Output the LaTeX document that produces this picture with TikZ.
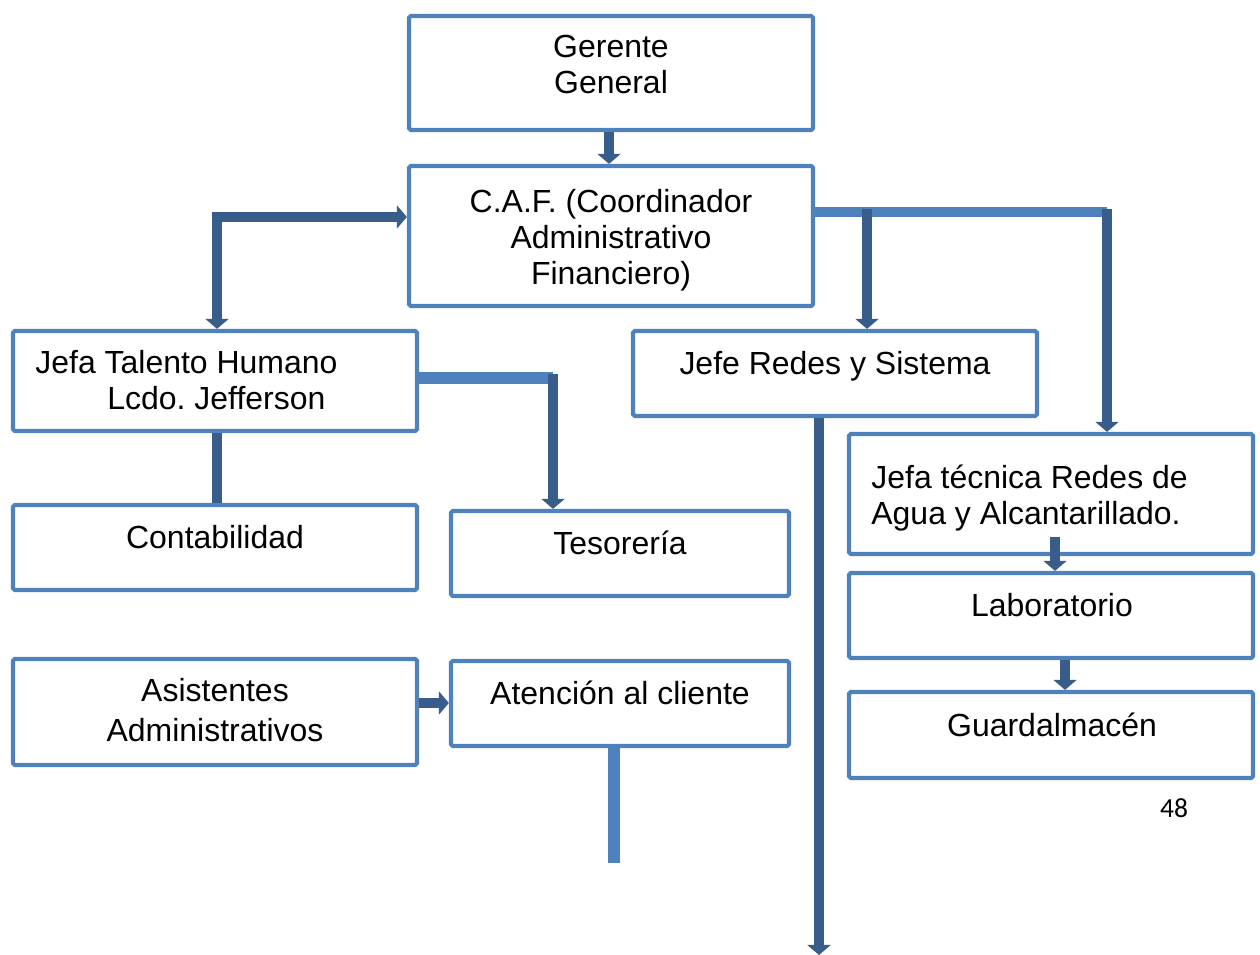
\documentclass[tikz,border=0pt]{standalone}
\usepackage{fontspec}
\setmainfont{Liberation Sans}
\newfontfamily\calib{Carlito}
\usetikzlibrary{arrows.meta,fit}
\definecolor{boxblue}{HTML}{4F81BD}
\definecolor{darkblue}{HTML}{385D8A}
\frenchspacing
\begin{document}
\begin{tikzpicture}[x=0.02cm,y=-0.02cm,
  box/.style={draw=boxblue,line width=2.4pt,rounded corners=1pt,inner sep=0pt},
  txt/.style={inner sep=0pt,align=center,font=\fontsize{18.2}{20.5}\selectfont},
  dark/.style={draw=darkblue,line width=5.7pt},
  darr/.style={dark,-{Triangle[length=5.7pt,width=13pt]}},
  light/.style={draw=boxblue,line width=6.3pt}
]
\useasboundingbox (0,0) rectangle (1260,955);

% boxes
\node[box,fit={(409,16) (813,130)}] (g) {};
\node[box,fit={(409,166) (813,306)}] (caf) {};
\node[box,fit={(13,331) (417,431)}] (tal) {};
\node[box,fit={(633,331) (1037,416)}] (red) {};
\node[box,fit={(849,434) (1253,554)}] (tec) {};
\node[box,fit={(13,505) (417,590)}] (con) {};
\node[box,fit={(451,511) (789,596)}] (tes) {};
\node[box,fit={(849,573) (1253,658)}] (lab) {};
\node[box,fit={(13,659) (417,765)}] (asi) {};
\node[box,fit={(451,661) (789,746)}] (ate) {};
\node[box,fit={(849,692) (1253,778)}] (gua) {};

% texts
\node[txt] (tg) at (611,64.5) {Gerente\\General};
\node[txt] (tcaf) at (611,240) {C.A.F. (Coordinador\\Administrativo\\Financiero)};
\node[txt,anchor=base west] (ttal1) at (35,373.5) {Jefa Talento Humano};
\node[txt,anchor=base west] (ttal2) at (107,409.5) {Lcdo. Jefferson};
\node[txt] (tred) at (835,366.5) {Jefe Redes y Sistema};
\node[txt,align=left,anchor=west] (ttec) at (871,498.5) {Jefa técnica Redes de\\Agua y Alcantarillado.};
\node[txt] (tcon) at (215,537) {Contabilidad};
\node[txt] (ttes) at (620,543) {Tesorería};
\node[txt] (tlab) at (1052,605) {Laboratorio};
\node[txt] (tasi) at (215,710) {Asistentes\\[2.3pt]Administrativos};
\node[txt] (tate) at (620,693) {Atención al cliente};
\node[txt] (tgua) at (1052,725) {Guardalmacén};
\node[inner sep=0pt,font=\calib\fontsize{15.7}{18}\selectfont] (page) at (1174,808) {48};

% connectors
\coordinate (lcorner) at (217,217);
\coordinate (rjoin) at (1107,212);
\coordinate (endred) at (819,955);
\coordinate (endate) at (614,863);

\draw[darr] (g.south -| 609,0) -- (caf.north -| 609,0);
\draw[dark,{Triangle[length=5.7pt,width=13pt]}-{Triangle[length=5.7pt,width=13pt]}]
  (tal.north -| lcorner) -- (lcorner) -- (caf.west |- lcorner);

\draw[light,line width=6pt] (caf.east |- rjoin) -- (rjoin);
\draw[darr] (867,209) -- (red.north -| 867,0);
\draw[darr] (1107,209) -- (tec.north -| rjoin);

\draw[light,line width=6.8pt] (tal.east |- 0,378) -- (553,378);
\draw[darr] (553,374) -- (tes.north -| 553,0);

\draw[dark] (tal.south -| 217,0) -- (con.north -| 217,0);

\draw[darr] (red.south -| endred) -- (endred);

\draw[darr,shorten <=-11pt] (tec.south -| 1055,0) -- (lab.north -| 1055,0);
\draw[darr] (lab.south -| 1065,0) -- (gua.north -| 1065,0);

\draw[darr] (asi.east |- 0,703) -- (ate.west |- 0,703);

\draw[light,line width=6.8pt] (ate.south -| endate) -- (endate);
\end{tikzpicture}
\end{document}
